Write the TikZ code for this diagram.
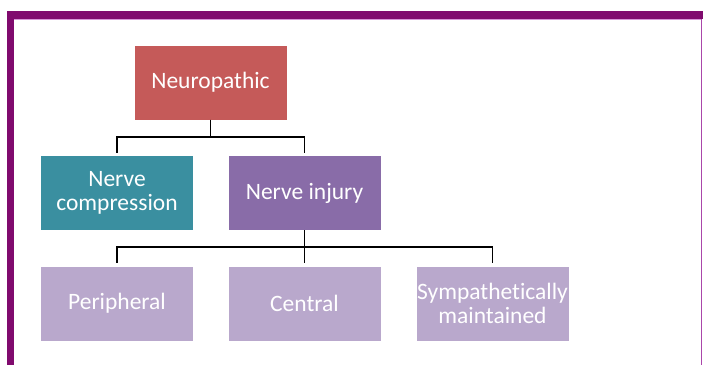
\documentclass[tikz,border=0pt]{standalone}
\usepackage{fontspec}
\setmainfont[Ligatures=CommonOff]{Carlito}
\usetikzlibrary{positioning}
\definecolor{framepurple}{RGB}{128,10,110}
\definecolor{framelight}{RGB}{215,150,215}
\definecolor{frameedge}{RGB}{170,70,170}
\definecolor{rootred}{RGB}{197,90,89}
\definecolor{compteal}{RGB}{58,143,160}
\definecolor{injpurple}{RGB}{137,108,168}
\definecolor{leaflilac}{RGB}{185,168,204}
\begin{document}
\begin{tikzpicture}[x=1pt,y=-1pt,
  box/.style={minimum width=152pt,minimum height=74pt,inner sep=0pt,
    text=white,align=center,font=\fontsize{23.5}{24}\selectfont},
  link/.style={line width=1.6pt,shorten >=3pt}]
\useasboundingbox (0,0) rectangle (703,365);
%\draw[gray,very thin](0,0) grid[step=50pt] (703,365);
\fill[framepurple] (7,11) rectangle (703,19);
\fill[framepurple] (7,11) rectangle (14,365);
\draw[framelight,line width=1pt] (14,19.5)--(701,19.5);
\draw[frameedge,line width=1.3pt] (701.5,19)--(701.5,365);
\node[box,fill=rootred] (neuro) at (210.5,82.5) {Neuropathic};
\node[box,fill=compteal] (comp) at (117,193) {Nerve\\compression};
\node[box,fill=injpurple] (injury) at (304.5,193) {Nerve injury};
\node[box,fill=leaflilac] (periph) at (117,303.5) {Peripheral};
\node[box,fill=leaflilac] (central) at (304.5,303.5) {Central};
\node[box,fill=leaflilac] (sympath) at (492.5,303.5) {Sympathetically\\maintained};
\draw[link] (neuro.south)--++(0,-17pt)-|(comp.north);
\draw[link] (neuro.south)--++(0,-17pt)-|(injury.north);
\draw[link] (injury.south)--++(0,-17pt)-|(periph.north);
\draw[link] (injury.south)--(central.north);
\draw[link] (injury.south)--++(0,-17pt)-|(sympath.north);
\end{tikzpicture}
\end{document}
